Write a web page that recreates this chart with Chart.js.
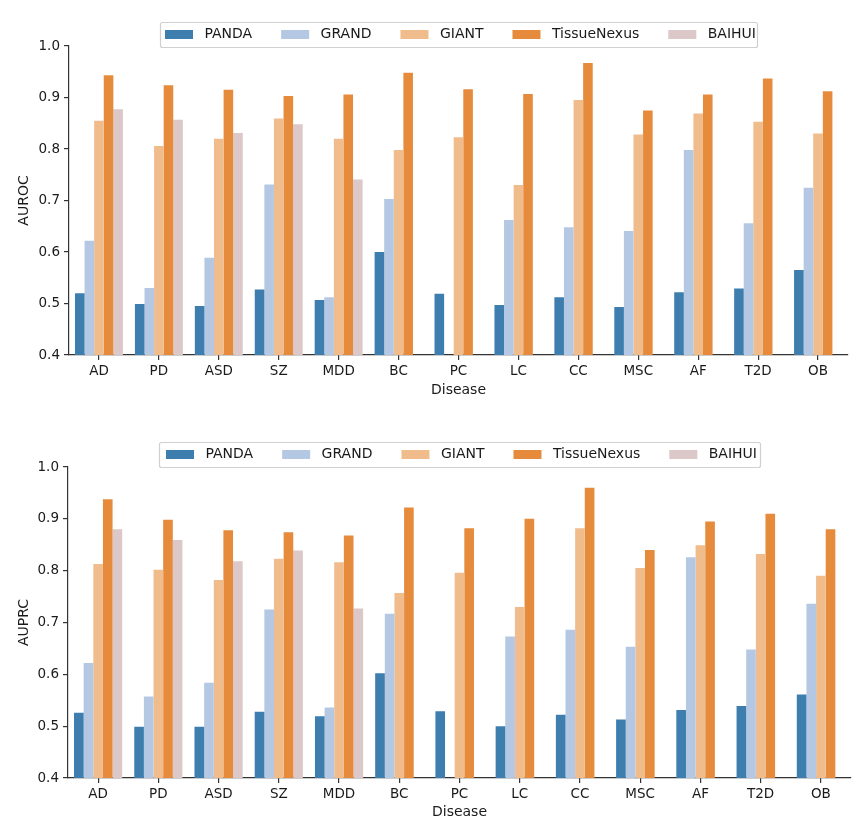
<!DOCTYPE html>
<html><head><meta charset="utf-8">
<script src="https://cdn.jsdelivr.net/npm/chart.js@4.4.1/dist/chart.umd.min.js"></script>
<style>
body{margin:0;background:#fff;width:865px;height:824px;overflow:hidden;position:relative}
.w{position:absolute;left:0;width:865px}
</style></head><body>
<div class="w" style="top:0;height:410px"><canvas id="c1"></canvas></div>
<div class="w" style="top:410px;height:414px"><canvas id="c2"></canvas></div>
<script>
const categories = ['AD','PD','ASD','SZ','MDD','BC','PC','LC','CC','MSC','AF','T2D','OB'];
const methods = ['PANDA','GRAND','GIANT','TissueNexus','BAIHUI'];
const methodColors = ['#3d7eaf','#b4c8e4','#f0bc8b','#e68a3b','#dcc8c8'];
const yTicks = [0.4,0.5,0.6,0.7,0.8,0.9,1.0];

// AUROC
const aurocPANDA  = [0.520,0.499,0.495,0.527,0.507,0.600,0.519,0.497,0.512,0.493,0.522,0.529,0.565];
const aurocGRAND  = [0.622,0.530,0.589,0.731,0.512,0.703,null, 0.662,0.648,0.641,0.798,0.656,0.725];
const aurocGIANT  = [0.855,0.806,0.820,0.859,0.820,0.798,0.823,0.730,0.895,0.828,0.869,0.853,0.830];
const aurocTN     = [0.943,0.924,0.915,0.903,0.906,0.948,0.916,0.907,0.967,0.875,0.906,0.937,0.912];
const aurocBAIHUI = [0.877,0.857,0.831,0.848,0.741,null,null,null,null,null,null,null,null];

// AUPRC
const auprcPANDA  = [0.526,0.499,0.499,0.528,0.519,0.602,0.529,0.500,0.522,0.513,0.531,0.539,0.561];
const auprcGRAND  = [0.622,0.557,0.584,0.725,0.536,0.717,null, 0.673,0.686,0.653,0.826,0.648,0.736];
const auprcGIANT  = [0.813,0.802,0.782,0.823,0.816,0.757,0.796,0.730,0.882,0.805,0.849,0.832,0.790];
const auprcTN     = [0.938,0.898,0.878,0.874,0.868,0.922,0.882,0.900,0.960,0.840,0.895,0.910,0.880];
const auprcBAIHUI = [0.880,0.859,0.818,0.839,0.727,null,null,null,null,null,null,null,null];

const FONT = "'DejaVu Sans', sans-serif";
const INK = '#1a1a1a';
const AX = '#333';

function makeChart(id, yLabel, series, g){
  const datasets = series.map((d,i)=>({
    label: methods[i], data: d, backgroundColor: methodColors[i], borderWidth: 0,
    categoryPercentage: 0.8, barPercentage: 1.0
  }));
  const legendFrame = {
    id: 'legendFrame',
    beforeInit(chart){
      const lg = chart.legend;
      const fit = lg.fit;
      lg.fit = function(){ fit.call(this); this.height = g.top; };
    },
    afterLayout(chart){
      const lg = chart.legend;
      lg.left = g.legendX - 29;
      lg.top = g.legendCY - 7 - 29;
    },
    beforeDraw(chart){
      const hb = chart.legend.legendHitBoxes;
      if(!hb || !hb.length) return;
      const ctx = chart.ctx;
      const x0 = g.frameL, x1 = g.frameR;
      const y0 = g.legendCY - 12.5, y1 = g.legendCY + 12.5;
      ctx.save();
      ctx.fillStyle = '#fff';
      ctx.strokeStyle = '#d0d0d0';
      ctx.lineWidth = 1.2;
      ctx.beginPath();
      ctx.roundRect(x0+0.5, y0+0.5, x1-x0, y1-y0, 2);
      ctx.fill(); ctx.stroke();
      ctx.restore();
    }
  };
  return new Chart(document.getElementById(id), {
    type: 'bar',
    data: { labels: categories, datasets },
    options: {
      responsive: true, maintainAspectRatio: false, animation: false,
      layout: { padding: { left: 0, right: g.padR, top: 0, bottom: 0 } },
      plugins: {
        tooltip: { enabled: false },
        legend: {
          position: 'top', align: 'start',
          labels: {
            boxWidth: 28, boxHeight: 9, padding: 29, color: INK,
            font: { family: FONT, size: 14 },
            generateLabels(chart){
              return chart.data.datasets.map((ds,i)=>({
                text: ' ' + ds.label, fillStyle: ds.backgroundColor, strokeStyle: ds.backgroundColor,
                lineWidth: 0, hidden: false, datasetIndex: i, fontColor: INK
              }));
            }
          }
        }
      },
      scales: {
        x: {
          offset: true,
          grid: { display: true, drawOnChartArea: false, drawTicks: true, tickLength: 5, color: AX, lineWidth: 1.2, offset: false },
          border: { display: true, color: AX, width: 1.2 },
          ticks: { color: INK, font: { family: FONT, size: 13.5 }, padding: 3, maxRotation: 0, autoSkip: false },
          title: { display: true, text: 'Disease', color: INK, font: { family: FONT, size: 14 }, padding: { top: 0, bottom: g.xTitlePad } },
          afterFit(s){ s.height = g.xH; }
        },
        y: {
          min: 0.4, max: 1.0,
          afterBuildTicks(s){ s.ticks = yTicks.map(v=>({value:v})); },
          grid: { display: true, drawOnChartArea: false, drawTicks: true, tickLength: 5, color: AX, lineWidth: 1.2 },
          border: { display: true, color: AX, width: 1.2 },
          ticks: { color: INK, font: { family: FONT, size: 13.5 }, padding: 4, callback: v => Number(v).toFixed(1) },
          title: { display: true, text: yLabel, color: INK, font: { family: FONT, size: 14 }, padding: { top: 16, bottom: 0 } },
          afterFit(s){ s.width = g.left; }
        }
      }
    },
    plugins: [legendFrame]
  });
}

makeChart('c1', 'AUROC', [aurocPANDA, aurocGRAND, aurocGIANT, aurocTN, aurocBAIHUI],
  { top: 46, left: 69, padR: 865-848, xH: 410-355, xTitlePad: 11.5, legendX: 165, legendCY: 34.5, frameL: 160, frameR: 757 });
makeChart('c2', 'AUPRC', [auprcPANDA, auprcGRAND, auprcGIANT, auprcTN, auprcBAIHUI],
  { top: 57, left: 68, padR: 865-851, xH: 414-368, xTitlePad: 3.5, legendX: 166, legendCY: 44.5, frameL: 159, frameR: 760 });
</script>
</body></html>
